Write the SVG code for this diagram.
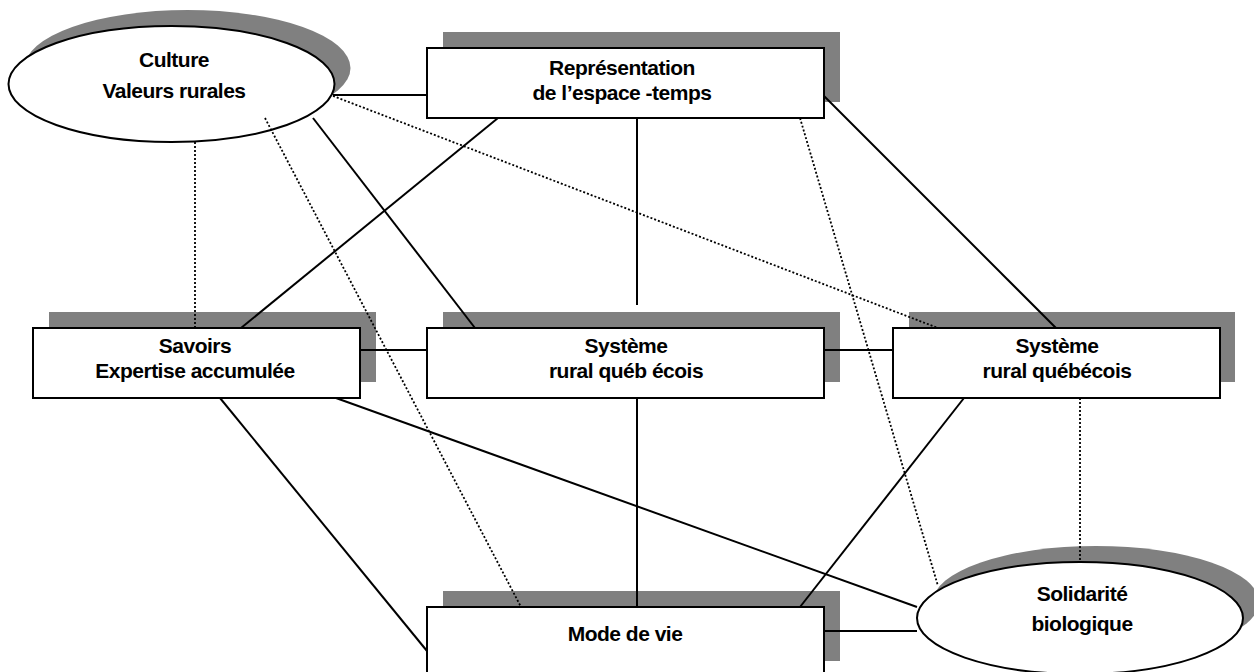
<svg xmlns="http://www.w3.org/2000/svg" width="1254" height="672" viewBox="0 0 1254 672">
  <style>
    .shadow { fill: #808080; stroke: none; }
    .body { fill: #ffffff; stroke: #000000; stroke-width: 2; }
    .label { font-family: "Liberation Sans", Arial, sans-serif; font-size: 21px; font-weight: bold; letter-spacing: -0.5px; fill: #000000; text-anchor: middle; }
    .solid { stroke: #000000; stroke-width: 2; fill: none; }
    .dotted { stroke: #000000; stroke-width: 1.8; stroke-dasharray: 2 2; fill: none; }
  </style>
  <rect x="0" y="0" width="1254" height="672" fill="#ffffff"/>

  <!-- Culture / Valeurs rurales -->
  <g id="culture">
    <ellipse class="shadow" cx="187.5" cy="68" rx="163" ry="58"/>
    <ellipse class="body" cx="171.5" cy="84" rx="163" ry="58"/>
    <text class="label" x="174" y="67">Culture</text>
    <text class="label" x="174" y="98">Valeurs rurales</text>
  </g>

  <!-- Représentation de l'espace-temps -->
  <g id="representation">
    <rect class="shadow" x="443" y="32" width="397" height="70"/>
    <rect class="body" x="427" y="48" width="397" height="70"/>
    <text class="label" x="622" y="75">Représentation</text>
    <text class="label" x="622" y="100">de l’espace -temps</text>
  </g>

  <!-- Savoirs -->
  <g id="savoirs">
    <rect class="shadow" x="49" y="312" width="327" height="70"/>
    <rect class="body" x="33" y="328" width="327" height="70"/>
    <text class="label" x="195" y="353">Savoirs</text>
    <text class="label" x="195" y="378">Expertise accumulée</text>
  </g>

  <!-- Système rural (centre) -->
  <g id="systeme-centre">
    <rect class="shadow" x="443" y="312" width="397" height="70"/>
    <rect class="body" x="427" y="328" width="397" height="70"/>
    <text class="label" x="626" y="353">Système</text>
    <text class="label" x="626" y="378">rural québ écois</text>
  </g>

  <!-- Système rural (droite) -->
  <g id="systeme-droite">
    <rect class="shadow" x="909" y="312" width="326" height="70"/>
    <rect class="body" x="893" y="328" width="327" height="70"/>
    <text class="label" x="1057" y="353">Système</text>
    <text class="label" x="1057" y="378">rural québécois</text>
  </g>

  <!-- Mode de vie -->
  <g id="mode-de-vie">
    <rect class="shadow" x="443" y="591" width="397" height="70"/>
    <rect class="body" x="427" y="607" width="397" height="70"/>
    <text class="label" x="625" y="641">Mode de vie</text>
  </g>

  <!-- Solidarité biologique -->
  <g id="solidarite">
    <ellipse class="shadow" cx="1096" cy="602" rx="163" ry="56"/>
    <ellipse class="body" cx="1080" cy="618" rx="163" ry="56"/>
    <text class="label" x="1082" y="601">Solidarité</text>
    <text class="label" x="1082" y="631">biologique</text>
  </g>

  <!-- connectors -->
  <g id="connectors">
    <line class="solid" x1="333" y1="95" x2="427" y2="95"/>
    <line class="solid" x1="313" y1="118" x2="475" y2="328"/>
    <line class="solid" x1="498" y1="118" x2="241" y2="328"/>
    <line class="solid" x1="637" y1="118" x2="637" y2="305"/>
    <line class="solid" x1="824" y1="96" x2="1056" y2="328"/>
    <line class="solid" x1="360" y1="350" x2="427" y2="350"/>
    <line class="solid" x1="824" y1="350" x2="893" y2="350"/>
    <line class="solid" x1="220" y1="398" x2="427" y2="651"/>
    <line class="solid" x1="336" y1="398" x2="917" y2="607"/>
    <line class="solid" x1="637" y1="398" x2="637" y2="607"/>
    <line class="solid" x1="964" y1="398" x2="800" y2="607"/>
    <line class="solid" x1="824" y1="631" x2="917" y2="631"/>

    <line class="dotted" x1="195" y1="142" x2="195" y2="328"/>
    <line class="dotted" x1="265" y1="118" x2="521" y2="607"/>
    <line class="dotted" x1="333" y1="96" x2="938" y2="328"/>
    <line class="dotted" x1="800" y1="118" x2="938" y2="586"/>
    <line class="dotted" x1="1080" y1="398" x2="1080" y2="562"/>
  </g>
</svg>
